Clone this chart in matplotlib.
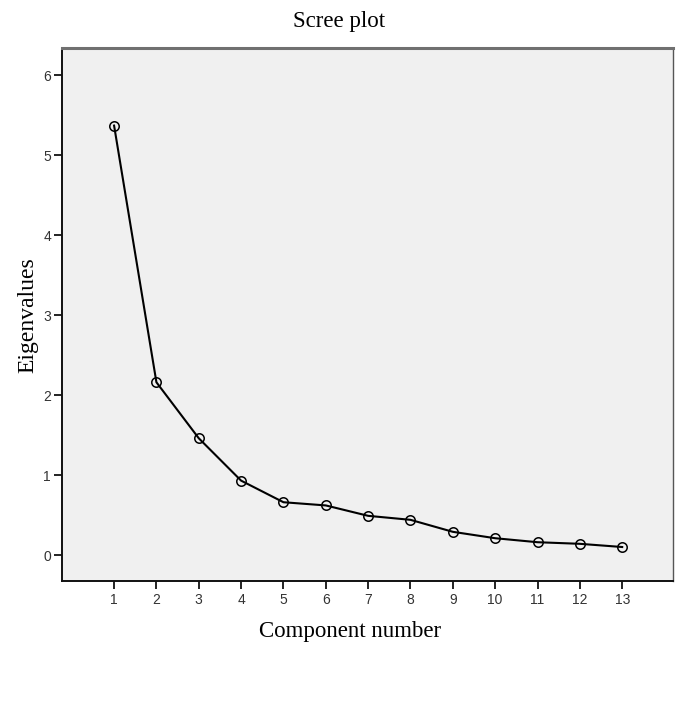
import matplotlib
matplotlib.use("Agg")
import matplotlib.pyplot as plt

# Scree plot data
components = [1, 2, 3, 4, 5, 6, 7, 8, 9, 10, 11, 12, 13]
eigenvalues = [5.37, 2.16, 1.46, 0.93, 0.66, 0.62, 0.49, 0.44, 0.29, 0.21, 0.16, 0.14, 0.10]
y_ticks = [0, 1, 2, 3, 4, 5, 6]

serif = ["Liberation Serif", "DejaVu Serif"]
tick_font = ["Liberation Sans Narrow", "Liberation Sans", "DejaVu Sans"]

fig = plt.figure(figsize=(6.81, 7.07), dpi=100)
ax = fig.add_axes([62 / 681, 1 - 581 / 707, (673 - 62) / 681, (581 - 48) / 707])
ax.set_facecolor("#f0f0f0")

ax.plot(components, eigenvalues, color="black", linewidth=1.5,
        marker="o", markersize=6.8, markerfacecolor="none",
        markeredgecolor="black", markeredgewidth=1.1)

ax.set_xlim(-0.23, 14.2)
ax.set_ylim(-0.325, 6.34)
ax.set_xticks(components)
ax.set_yticks(y_ticks)

for lbl in ax.get_xticklabels() + ax.get_yticklabels():
    lbl.set_family(tick_font)
    lbl.set_fontsize(10)
    lbl.set_color("#333333")
ax.tick_params(axis="both", direction="out", length=6, width=1.4, color="#222222")
ax.tick_params(axis="x", pad=3)
ax.tick_params(axis="y", pad=2)

ax.spines["top"].set_color("#707070")
ax.spines["top"].set_linewidth(2.2)
ax.spines["right"].set_color("#555555")
ax.spines["right"].set_linewidth(1.0)
ax.spines["left"].set_color("#111111")
ax.spines["left"].set_linewidth(1.4)
ax.spines["bottom"].set_color("#111111")
ax.spines["bottom"].set_linewidth(1.4)

fig.text(339 / 681, 1 - 21 / 707, "Scree plot", family=serif, fontsize=16.5,
         ha="center", va="center")
fig.text(350 / 681, 1 - 632 / 707, "Component number", family=serif, fontsize=16.5,
         ha="center", va="center")
fig.text(28 / 681, 1 - 315 / 707, "Eigenvalues", family=serif, fontsize=17,
         ha="center", va="center", rotation=90)

fig.savefig("out.png", dpi=100)
